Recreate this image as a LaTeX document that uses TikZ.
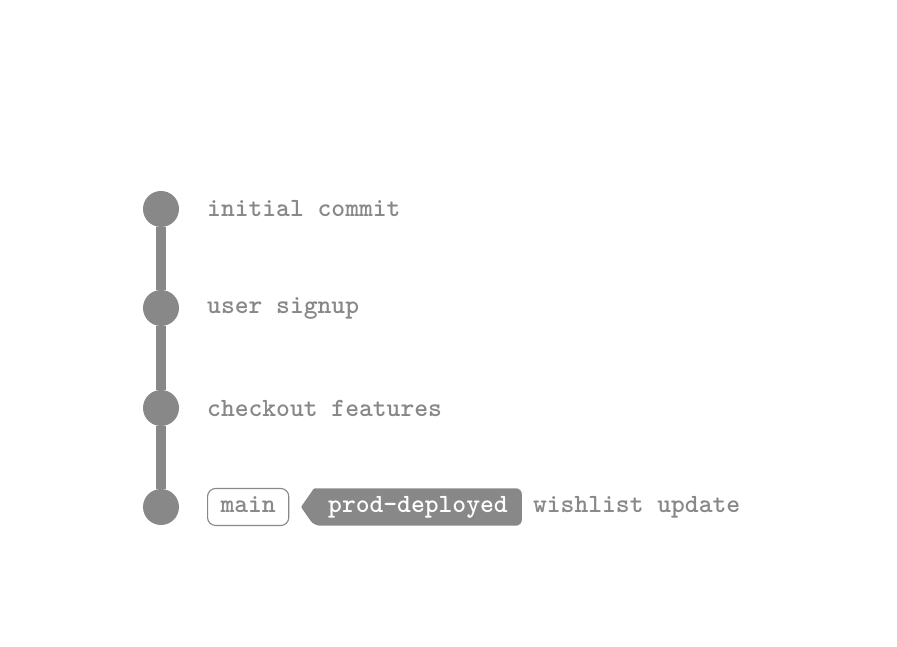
\documentclass[tikz,border=0pt]{standalone}
\usepackage{fontspec}
\usepackage{tikz}
\usetikzlibrary{positioning}
\usetikzlibrary{backgrounds}
\usetikzlibrary{calc}

\definecolor{gitgray}{HTML}{888888}
\newcommand{\gitfont}{\ttfamily\bfseries\fontsize{26.3}{30}\selectfont}

\tikzset{
    commit/.style={circle, fill=gitgray, minimum size=36pt, inner sep=0pt},
    msg/.style={font=\gitfont, text=gitgray, inner sep=0pt, anchor=west},
    branchbox/.style={font=\gitfont, text=gitgray, draw=gitgray, line width=1.1pt,
        rounded corners=8pt, inner xsep=13pt, text height=12pt, text depth=0pt, minimum height=37pt},
    tagbox/.style={font=\gitfont, text=white, inner xsep=14pt,
        text height=12pt, text depth=0pt, minimum height=37pt},
    history/.style={draw=gitgray, line width=10pt}
}

\begin{document}
\begin{tikzpicture}[x=1pt, y=1pt]
    \useasboundingbox (0,0) rectangle (897,647);
            % commits
            \node[commit] (C1) at (161,438) {};
            \node[commit] (C2) at (161,339) {};
            \node[commit] (C3) at (161,239) {};
            \node[commit] (C4) at (161,140) {};
            \begin{scope}[on background layer]
    	    \path[history] (C1) -- (C2) -- (C3) -- (C4);
            \end{scope}
            % messages
            \node[msg] (M1) at (207,438) {initial commit};
            \node[msg] (M2) at (207,339) {user signup};
            \node[msg] (M3) at (207,239) {checkout features};
            % refs on the last commit
            \node[branchbox, anchor=west] (main) at (207,140) {main};
            \node[tagbox, anchor=west] (prod) at (314,140) {prod-deployed};
            \node[msg, right=11pt of prod] (M4) {wishlist update};
            \begin{scope}[on background layer]
    	    \fill[gitgray, rounded corners=6pt] (prod.north west) -- (prod.north east) -- (prod.south east)
    	        -- (prod.south west) [rounded corners=1pt] -- ($(prod.west)+(-13pt,0)$) -- cycle;
            \end{scope}
\end{tikzpicture}
\end{document}
